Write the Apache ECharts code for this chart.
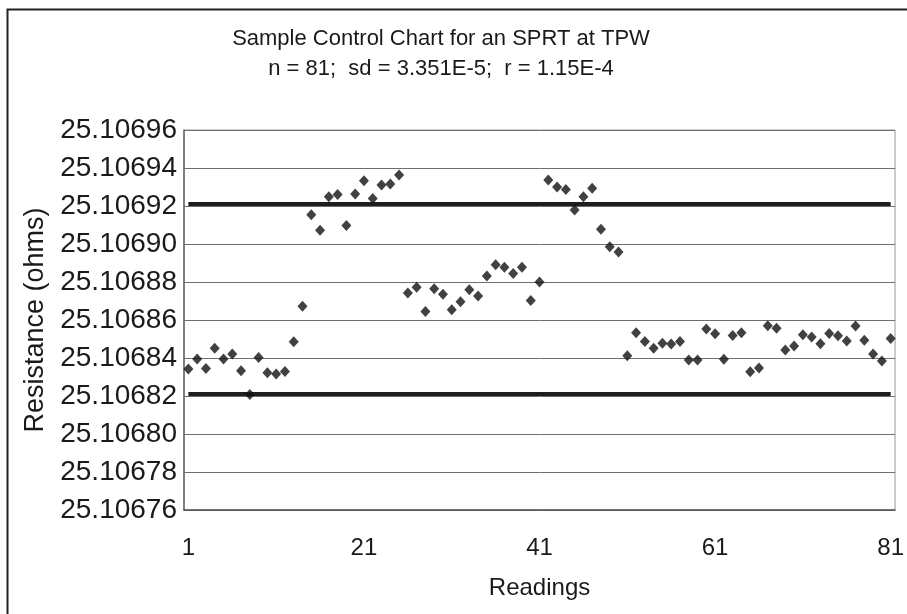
<!DOCTYPE html>
<html>
<head>
<meta charset="utf-8">
<script src="https://cdn.jsdelivr.net/npm/echarts@6/dist/echarts.min.js"></script>
<style>
  html, body { margin: 0; padding: 0; background: #fff; }
  #chart { width: 907px; height: 614px; }
</style>
</head>
<body>
<div id="chart"></div>
<script>
// Resistance readings of the SPRT at the triple point of water (ohms)
const resistance = [
  25.1068342, 25.1068395, 25.1068345, 25.1068451, 25.1068395, 25.1068421, 25.1068333, 25.1068208, 25.1068402, 25.1068323,
  25.1068316, 25.1068329, 25.1068486, 25.1068672, 25.1069154, 25.1069072, 25.1069249, 25.1069261, 25.1069098, 25.1069263,
  25.1069333, 25.1069240, 25.1069311, 25.1069316, 25.1069363, 25.1068742, 25.1068772, 25.1068645, 25.1068765, 25.1068735,
  25.1068654, 25.1068696, 25.1068759, 25.1068726, 25.1068832, 25.1068891, 25.1068877, 25.1068845, 25.1068877, 25.1068702,
  25.1068800, 25.1069337, 25.1069300, 25.1069287, 25.1069179, 25.1069249, 25.1069293, 25.1069077, 25.1068986, 25.1068958,
  25.1068412, 25.1068533, 25.1068487, 25.1068451, 25.1068477, 25.1068474, 25.1068487, 25.1068389, 25.1068389, 25.1068553,
  25.1068528, 25.1068393, 25.1068519, 25.1068533, 25.1068328, 25.1068347, 25.1068570, 25.1068556, 25.1068442, 25.1068463,
  25.1068523, 25.1068511, 25.1068475, 25.1068529, 25.1068517, 25.1068489, 25.1068568, 25.1068493, 25.1068421, 25.1068384,
  25.1068503
];

// Control limits
const upperLimit = 25.106921;
const lowerLimit = 25.106821;

// Reading numbers 1..n
const readings = resistance.map((_, i) => String(i + 1));

// Value axis range and tick step
const yMin = 25.10676;
const yMax = 25.10696;
const yStep = 0.00002;

const titleLines = [
  'Sample Control Chart for an SPRT at TPW',
  'n = 81;  sd = 3.351E-5;  r = 1.15E-4'
];

const FONT = '"Liberation Sans", Arial, Helvetica, sans-serif';

const chart = echarts.init(document.getElementById('chart'), null, { renderer: 'canvas' });

chart.setOption({
  animation: false,
  backgroundColor: '#ffffff',
  textStyle: { fontFamily: FONT, color: '#1a1a1a' },
  title: {
    text: titleLines.join('\n'),
    left: 436,
    top: 19,
    textAlign: 'center',
    textStyle: { fontFamily: FONT, fontSize: 22, fontWeight: 'normal', lineHeight: 30, color: '#1a1a1a' }
  },
  graphic: [{
    type: 'rect',
    left: 5, top: 7,
    shape: { width: 920, height: 630 },
    style: { fill: 'none', stroke: '#222', lineWidth: 2 },
    silent: true
  }],
  grid: {
    left: 184, right: 10, top: 130, bottom: 104,
    show: true, borderColor: '#9a9a9a', borderWidth: 1, backgroundColor: 'transparent'
  },
  xAxis: {
    type: 'category',
    data: readings,
    boundaryGap: true,
    name: 'Readings',
    nameLocation: 'middle',
    nameGap: 66,
    nameTextStyle: { fontFamily: FONT, fontSize: 24, color: '#1a1a1a' },
    axisLine: { show: true, lineStyle: { color: '#555', width: 1.5 } },
    axisTick: { show: false },
    axisLabel: { interval: 19, margin: 26, fontFamily: FONT, fontSize: 24, color: '#1a1a1a' },
    splitLine: { show: false }
  },
  yAxis: {
    type: 'value',
    min: yMin,
    max: yMax,
    interval: yStep,
    name: 'Resistance (ohms)',
    nameLocation: 'middle',
    nameRotate: 90,
    nameGap: 127,
    nameTextStyle: { fontFamily: FONT, fontSize: 27, color: '#1a1a1a' },
    axisLine: { show: true, lineStyle: { color: '#666', width: 1.5 } },
    axisTick: { show: false },
    axisLabel: {
      margin: 7, fontFamily: FONT, fontSize: 28, color: '#1a1a1a',
      formatter: v => v.toFixed(5)
    },
    splitLine: { show: true, lineStyle: { color: '#6e6e6e', width: 1 } }
  },
  series: [
    {
      name: 'Upper limit',
      type: 'line',
      data: readings.map(() => upperLimit),
      symbol: 'none',
      lineStyle: { color: '#1e1e1e', width: 4 },
      z: 2
    },
    {
      name: 'Lower limit',
      type: 'line',
      data: readings.map(() => lowerLimit),
      symbol: 'none',
      lineStyle: { color: '#1e1e1e', width: 4 },
      z: 2
    },
    {
      name: 'Resistance',
      type: 'scatter',
      data: resistance,
      symbol: 'diamond',
      symbolSize: [10, 11],
      itemStyle: { color: '#111' },
      z: 3
    }
  ]
});
</script>
</body>
</html>
